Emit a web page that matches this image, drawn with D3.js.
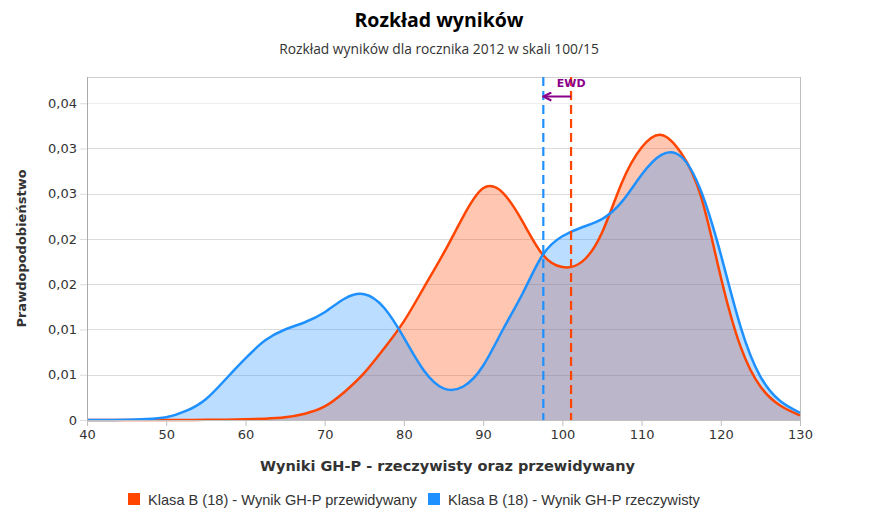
<!DOCTYPE html>
<html><head><meta charset="utf-8">
<script src="https://cdn.jsdelivr.net/npm/d3@7"></script>
<style>body{margin:0;background:#fff}</style>
</head><body>
<svg id="c" width="874" height="528"></svg>
<script>
const scores = [40,42.5,45,47.5,50,52.5,55,57.5,60,62.5,65,67.5,70,72.5,75,77.5,80,82.5,85,87.5,90,92.5,95,97.5,100,102.5,105,107.5,110,112.5,115,117.5,120,122.5,125,127.5,130];
const predicted = [0,0,0,0,0,0,0.00002,0.00004,0.00008,0.00015,0.0003,0.0007,0.0015,0.0031,0.0052,0.0079,0.0109,0.0146,0.0184,0.0225,0.0256,0.0251,0.0219,0.0183,0.0169,0.0175,0.0207,0.0262,0.0301,0.0315,0.0295,0.0247,0.0158,0.0081,0.0037,0.0016,0.0005];
const actual = [0,0.00001,0.00003,0.0001,0.0003,0.0010,0.0023,0.0045,0.0068,0.0088,0.0100,0.0108,0.0119,0.0134,0.0139,0.0124,0.0091,0.0055,0.0035,0.0037,0.0060,0.0100,0.0140,0.0182,0.0203,0.0213,0.0222,0.0241,0.0271,0.0293,0.0291,0.0253,0.0183,0.0103,0.0048,0.0021,0.0008];
const meanPredicted = 101.1;
const meanActual = 97.6;
const yTicks = [0,0.005,0.01,0.015,0.02,0.025,0.03,0.035];
const xTicks = [40,50,60,70,80,90,100,110,120,130];
const seriesNames = ["Klasa B (18) - Wynik GH-P przewidywany","Klasa B (18) - Wynik GH-P rzeczywisty"];
const colors = ["#ff4500","#1e90ff"];

const svg = d3.select("#c");
const L=87,R=800,T=77,B=420;
const x = d3.scaleLinear().domain([40,130]).range([L,R]);
const y = d3.scaleLinear().domain([0,0.0379]).range([B,T]);
const curve = d3.curveNatural;

// title
svg.append("text").attr("x",439).attr("y",27).attr("text-anchor","middle")
  .style("font-family","Open Sans").style("font-weight","bold").style("font-size","19.5px").style("fill","#000")
  .text("Rozkład wyników");
svg.append("text").attr("x",439).attr("y",54).attr("text-anchor","middle")
  .style("font-family","Open Sans").style("font-size","13.8px").style("fill","#333")
  .text("Rozkład wyników dla rocznika 2012 w skali 100/15");

// clip
svg.append("clipPath").attr("id","plot").append("rect").attr("x",L).attr("y",T).attr("width",R-L).attr("height",B-T);

// grid
svg.append("g").selectAll("line").data(yTicks.slice(1)).join("line")
  .attr("x1",L).attr("x2",R).attr("y1",d=>Math.round(y(d))+0.5).attr("y2",d=>Math.round(y(d))+0.5)
  .attr("stroke",(d,i)=> i===yTicks.length-2 ? "#eeeeee" : "#dcdcdc").attr("stroke-width",1);
// plot border
svg.append("line").attr("x1",L).attr("x2",R).attr("y1",T+0.5).attr("y2",T+0.5).attr("stroke","#d0d0d0");
svg.append("line").attr("x1",R+0.5).attr("x2",R+0.5).attr("y1",T).attr("y2",B).attr("stroke","#c0c0c0");

// areas
const data = [predicted, actual];
const plot = svg.append("g").attr("clip-path","url(#plot)");
data.forEach((vals,i)=>{
  const pts = scores.map((s,j)=>[s,vals[j]]);
  const area = d3.area().x(d=>x(d[0])).y0(y(0)).y1(d=>y(d[1])).curve(curve);
  plot.append("path").datum(pts).attr("d",area).attr("fill",colors[i]).attr("fill-opacity",0.3);
});
data.forEach((vals,i)=>{
  const pts = scores.map((s,j)=>[s,vals[j]]);
  const line = d3.line().x(d=>x(d[0])).y(d=>y(d[1])).curve(curve);
  svg.append("path").datum(pts).attr("d",line).attr("fill","none").attr("stroke",colors[i]).attr("stroke-width",2.5);
});

// axes
const xAxis = d3.axisBottom(x).tickValues(xTicks).tickSize(6).tickPadding(4).tickFormat(d3.format("d"));
const gx = svg.append("g").attr("transform",`translate(0,${B})`).call(xAxis);
gx.select(".domain").attr("stroke","#c0c0c0");
gx.selectAll(".tick line").attr("stroke","#c0c0c0");
gx.selectAll("text").style("font-family","DejaVu Sans").style("font-size","13px").style("fill","#333");

const fmt = d => d===0 ? "0" : d3.format(".2f")(d+1e-9).replace(".",",");
const yAxis = d3.axisLeft(y).tickValues(yTicks).tickSize(7).tickPadding(3).tickFormat(fmt);
const gy = svg.append("g").attr("transform",`translate(${L},0)`).call(yAxis);
gy.select(".domain").attr("stroke","#aaaaaa").attr("d",`M0.5,${T}V${B}`);
gy.selectAll(".tick line").attr("stroke","#dcdcdc");
gy.selectAll("text").style("font-family","DejaVu Sans").style("font-size","13px").style("fill","#333");

// bottom axis line on top
svg.append("line").attr("x1",L).attr("x2",R).attr("y1",B+0.5).attr("y2",B+0.5).attr("stroke","#c0c0c0");

// mean lines
[[meanActual,colors[1]],[meanPredicted,colors[0]]].forEach(([m,c])=>{
  svg.append("line").attr("x1",x(m)).attr("x2",x(m)).attr("y1",T).attr("y2",B)
    .attr("stroke",c).attr("stroke-width",2.2).attr("stroke-dasharray","9,5");
});

// EWD annotation
svg.append("defs").append("marker").attr("id","arr").attr("viewBox","0 0 10 10").attr("refX",8).attr("refY",5)
  .attr("markerWidth",5).attr("markerHeight",5).attr("orient","auto")
  .append("path").attr("d","M1,1 L9,5 L1,9").attr("fill","none").attr("stroke","#8b008b").attr("stroke-width",2.2);
svg.append("path").attr("d",`M${x(meanPredicted)},96.5 H${x(meanActual)+1}`)
  .attr("fill","none").attr("stroke","#8b008b").attr("stroke-width",2).attr("marker-end","url(#arr)");
svg.append("text").attr("x",(x(meanActual)+x(meanPredicted))/2+14).attr("y",87).attr("text-anchor","middle")
  .style("font-family","DejaVu Sans").style("font-weight","bold").style("font-size","11px").style("fill","#8b008b").text("EWD");

// axis titles
svg.append("text").attr("x",(L+R)/2+4).attr("y",471).attr("text-anchor","middle")
  .style("font-family","DejaVu Sans").style("font-weight","bold").style("font-size","14.5px").style("fill","#333")
  .text("Wyniki GH-P - rzeczywisty oraz przewidywany");
svg.append("text").attr("transform",`translate(26,${(T+B)/2}) rotate(-90)`).attr("text-anchor","middle")
  .style("font-family","DejaVu Sans").style("font-weight","bold").style("font-size","13px").style("fill","#333")
  .text("Prawdopodobieństwo");

// legend
const legX = [128,428];
seriesNames.forEach((n,i)=>{
  const g = svg.append("g").attr("transform",`translate(${legX[i]},493)`);
  g.append("rect").attr("width",12).attr("height",12).attr("fill",colors[i]);
  g.append("text").attr("x",20).attr("y",11.5).style("font-family","Liberation Sans").style("font-size","14.6px").style("fill","#333").text(n);
});
</script>
</body></html>
